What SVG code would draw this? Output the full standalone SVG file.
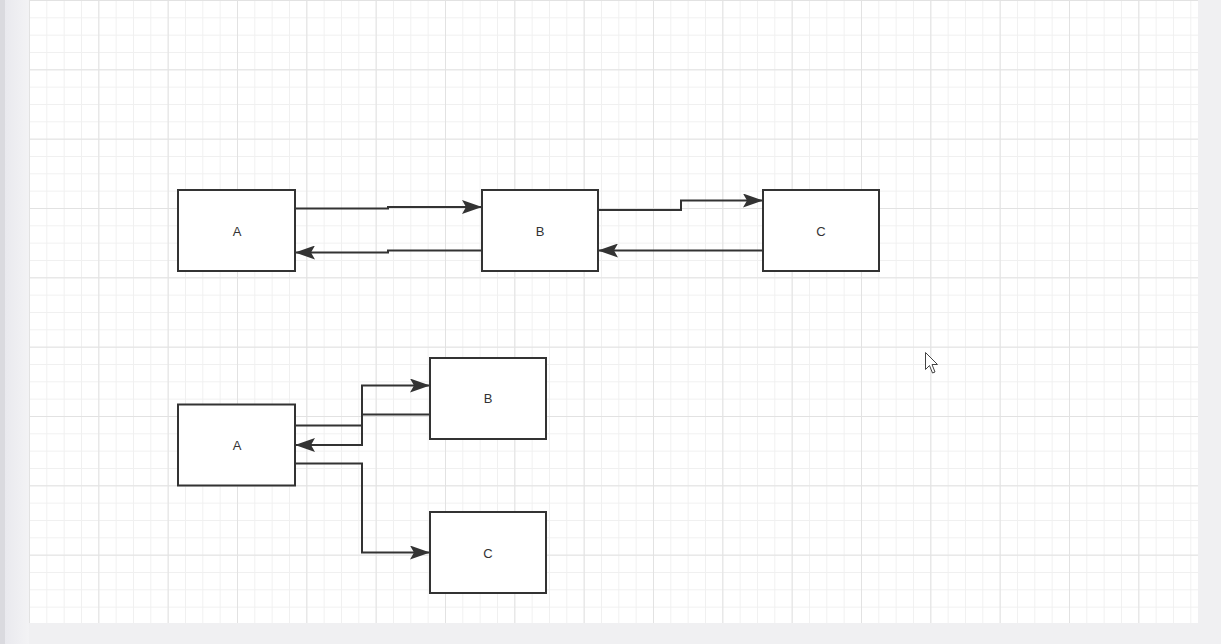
<svg xmlns="http://www.w3.org/2000/svg" width="1221" height="644" viewBox="0 0 1221 644">
<defs>
<pattern id="minor" x="29" y="0" width="17.333" height="17.333" patternUnits="userSpaceOnUse">
<path d="M0 0.5H17.333M0.5 0V17.333" fill="none" stroke="#f0f0f0" stroke-width="1"/>
</pattern>
<pattern id="major" x="29" y="0" width="69.333" height="69.333" patternUnits="userSpaceOnUse">
<path d="M0 0.5H69.333M0.5 0V69.333" fill="none" stroke="#e2e2e2" stroke-width="1"/>
</pattern>
<marker id="arr" viewBox="0 0 20 14" refX="19" refY="7" markerWidth="20" markerHeight="14" markerUnits="userSpaceOnUse" orient="auto">
<path d="M0 0L20 7L0 14L4 7Z" fill="#333333"/>
</marker>
<linearGradient id="side" x1="0" y1="0" x2="1" y2="0">
<stop offset="0" stop-color="#e9e9ee"/>
<stop offset="1" stop-color="#f3f3f5"/>
</linearGradient>
</defs>
<style>
.box{fill:#ffffff;stroke:#333333;stroke-width:2}
.lbl{font-family:"Liberation Sans",Arial,sans-serif;font-size:13px;fill:#333333;text-anchor:middle}
.edge{fill:none;stroke:#333333;stroke-width:2;marker-end:url(#arr)}
</style>
<rect x="0" y="0" width="1221" height="644" fill="#f0f0f2"/>
<rect x="0" y="0" width="5" height="644" fill="#dadadf"/>
<rect x="5" y="0" width="24" height="644" fill="url(#side)"/>
<rect x="29" y="0" width="1169" height="623" fill="#ffffff"/>
<rect x="29" y="0" width="1169" height="623" fill="url(#minor)"/>
<rect x="29" y="0" width="1169" height="623" fill="url(#major)"/>
<g id="connectors">
<path class="edge" d="M295 208.5H388V207H481"/>
<path class="edge" d="M482 250.5H388V252.5H296"/>
<path class="edge" d="M598 210H681V200.5H762"/>
<path class="edge" d="M763 250.5H599"/>
<path class="edge" d="M295 425.5H362V385.5H429"/>
<path class="edge" d="M430 414.5H362V445H296"/>
<path class="edge" d="M295 463.5H362V552.5H429"/>
</g>
<g id="top-A"><rect class="box" x="178" y="190" width="117" height="81"/><text class="lbl" x="237" y="236">A</text></g>
<g id="top-B"><rect class="box" x="482" y="190" width="116" height="81"/><text class="lbl" x="540" y="236">B</text></g>
<g id="top-C"><rect class="box" x="763" y="190" width="116" height="81"/><text class="lbl" x="821" y="236">C</text></g>
<g id="bottom-A"><rect class="box" x="178" y="404.5" width="117" height="81"/><text class="lbl" x="237" y="450">A</text></g>
<g id="bottom-B"><rect class="box" x="430" y="358" width="116" height="81"/><text class="lbl" x="488" y="403">B</text></g>
<g id="bottom-C"><rect class="box" x="430" y="512" width="116" height="81"/><text class="lbl" x="488" y="558">C</text></g>
<g id="cursor">
<path d="M925.5 352.5V369.5L929.5 365.5L932.5 373L935 372L932 364.5H937.5Z" fill="#ffffff" stroke="#444444" stroke-width="1" stroke-linejoin="round"/>
</g>
</svg>
